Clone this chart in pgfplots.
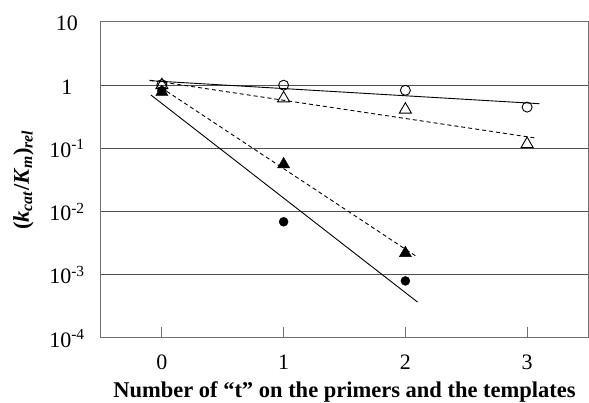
\documentclass[border=0pt]{standalone}
\usepackage{fontspec}
\setmainfont{Liberation Serif}
\usepackage{pgfplots}
\pgfplotsset{compat=1.18}
\definecolor{gridc}{HTML}{505050}
\definecolor{framec}{HTML}{707070}
\begin{document}
\begin{tikzpicture}
\begin{axis}[
  scale only axis,
  width=487pt, height=316pt,
  ymode=log,
  xmin=-0.5, xmax=3.5,
  ymin=1e-4, ymax=10,
  xtick={0,1,2,3},
  xticklabels={0,1,2,3},
  ytick={1e-4,1e-3,1e-2,1e-1,1,10},
  yticklabels={10\textsuperscript{-4},10\textsuperscript{-3},10\textsuperscript{-2},10\textsuperscript{-1},1,10},
  minor tick num=0,
  yminorticks=false,
  ymajorgrids,
  grid style={gridc, line width=1pt},
  axis line style={framec, line width=1pt},
  xtick style={framec, line width=0.8pt},
  ytick style={draw=none},
  tick pos=bottom,
  major tick length=11pt,
  tick label style={font=\fontsize{22}{24}\selectfont},
  xticklabel style={anchor=center, yshift=-24.5pt},
  yticklabel style={anchor=base, xshift=-34pt, yshift=-9pt},
  xlabel={\textbf{Number of “t” on the primers and the templates}},
  xlabel style={font=\fontsize{22.5}{24}\selectfont, at={(axis description cs:0.5,0)}, anchor=base, yshift=-59pt},
  ylabel={\textbf{(\textit{k}\textsubscript{\textit{cat}}/\textit{K}\textsubscript{\textit{m}})\textsubscript{\textit{rel}}}},
  ylabel style={font=\fontsize{22.5}{24}\selectfont, at={(axis description cs:0,0.5)}, anchor=center, yshift=77.5pt},
  clip=false,
]
% trend lines
\addplot[black, line width=0.9pt] coordinates {(-0.1,1.18) (3.1,0.51)};
\addplot[black, line width=0.9pt, dash pattern=on 4pt off 3pt] coordinates {(-0.1,1.2) (3.08,0.145)};
\addplot[black, line width=0.9pt, dash pattern=on 4pt off 3pt] coordinates {(0.04,0.8) (2.1,0.0019)};
\addplot[black, line width=0.9pt] coordinates {(-0.09,0.70) (2.1,0.00037)};
% filled circles
\addplot[only marks, mark=*, mark size=4.5pt, black] coordinates {(0,0.82) (1,0.0069) (2,0.0008)};
% filled triangles
\addplot[only marks, mark=triangle*, mark size=7pt, black] coordinates {(0,0.78) (1,0.056) (2,0.0022)};
% open triangles
\addplot[only marks, mark=triangle, mark size=7pt, black, mark options={fill=white, line width=0.9pt}] coordinates {(0,1.0) (1,0.62) (2,0.41) (3,0.117)};
% open circles
\addplot[only marks, mark=o, mark size=5pt, black, mark options={fill=white, line width=0.9pt}] coordinates {(0,1.02) (1,1.0) (2,0.83) (3,0.45)};
\end{axis}
\pgfresetboundingbox
\path ([xshift=-101pt,yshift=-65pt]current axis.south west) rectangle ([xshift=1pt,yshift=22pt]current axis.north east);
\end{tikzpicture}
\end{document}
